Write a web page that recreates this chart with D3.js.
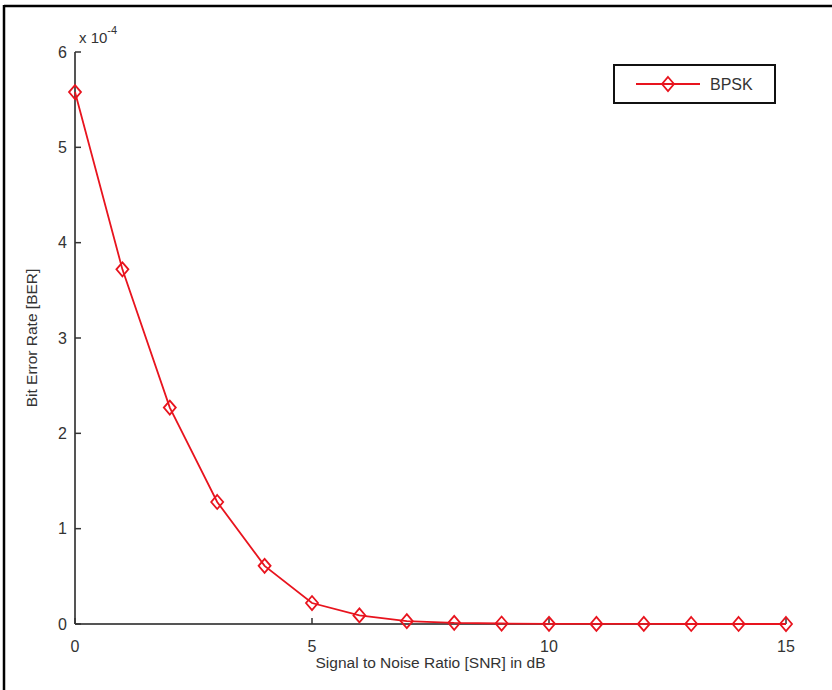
<!DOCTYPE html>
<html><head><meta charset="utf-8">
<script src="https://cdn.jsdelivr.net/npm/d3@7"></script>
<style>body{margin:0;background:#fff}svg{display:block}text{font-family:"Liberation Sans",Arial,sans-serif}</style>
</head><body>
<script>
const snr = [0,1,2,3,4,5,6,7,8,9,10,11,12,13,14,15];
const ber = [5.58,3.72,2.27,1.28,0.61,0.22,0.09,0.03,0.012,0.005,0.002,0.001,0.0005,0.0002,0.0001,0.00005];
const xTicks = [0,5,10,15];
const yTicks = [0,1,2,3,4,5,6];
const seriesName = "BPSK";

const W = 832, H = 690;
const svg = d3.select("body").append("svg").attr("width", W).attr("height", H);
svg.append("line").attr("x1",4).attr("x2",W).attr("y1",6).attr("y2",6).attr("stroke","#000").attr("stroke-width",2.5);
svg.append("line").attr("x1",4).attr("x2",4).attr("y1",5).attr("y2",H).attr("stroke","#000").attr("stroke-width",2.5);

const x = d3.scaleLinear().domain([0,15]).range([75,786]);
const y = d3.scaleLinear().domain([0,6]).range([624,52]);
const axisColor = "#555", textColor = "#333";

svg.append("line").attr("x1",x(0)).attr("x2",x(0)).attr("y1",y(6)).attr("y2",y(0)).attr("stroke",axisColor).attr("stroke-width",2);
svg.append("line").attr("x1",x(0)).attr("x2",x(15)).attr("y1",y(0)).attr("y2",y(0)).attr("stroke",axisColor).attr("stroke-width",2);

const gy = svg.append("g");
gy.selectAll("line.t").data(yTicks).join("line").attr("x1",x(0)).attr("x2",x(0)+6).attr("y1",d=>y(d)).attr("y2",d=>y(d)).attr("stroke","#333").attr("stroke-width",1.5);
gy.selectAll("text").data(yTicks).join("text").attr("x",x(0)-8).attr("y",d=>y(d)).attr("dy","0.35em").attr("text-anchor","end").attr("font-size",16).attr("fill",textColor).text(d=>d);

const gx = svg.append("g");
gx.selectAll("line.t").data(xTicks).join("line").attr("x1",d=>x(d)).attr("x2",d=>x(d)).attr("y1",y(0)).attr("y2",y(0)-6).attr("stroke","#333").attr("stroke-width",1.5);
gx.selectAll("text").data(xTicks).join("text").attr("x",d=>x(d)).attr("y",y(0)+28).attr("text-anchor","middle").attr("font-size",16).attr("fill",textColor).text(d=>d);

const ex = svg.append("text").attr("x",79).attr("y",43).attr("font-size",15).attr("fill",textColor);
ex.append("tspan").text("x 10");
ex.append("tspan").attr("dy",-9).attr("font-size",11).text("-4");

svg.append("text").attr("x",(x(0)+x(15))/2).attr("y",668).attr("text-anchor","middle").attr("font-size",15.5).attr("fill",textColor).text("Signal to Noise Ratio [SNR] in dB");
svg.append("text").attr("transform",`translate(37,${(y(0)+y(6))/2}) rotate(-90)`).attr("text-anchor","middle").attr("font-size",15.5).attr("fill",textColor).text("Bit Error Rate [BER]");

const red = "#e8141e";
const pts = snr.map((s,i)=>[s,ber[i]]);
svg.append("path").datum(pts).attr("fill","none").attr("stroke",red).attr("stroke-width",1.8)
  .attr("d", d3.line().x(d=>x(d[0])).y(d=>y(d[1])));
const diamond = "M0,-7L6,0L0,7L-6,0Z";
svg.selectAll("path.m").data(pts).join("path").attr("class","m")
  .attr("transform",d=>`translate(${x(d[0])},${y(d[1])})`).attr("d",diamond)
  .attr("fill","none").attr("stroke",red).attr("stroke-width",1.8);

const lg = svg.append("g");
lg.append("rect").attr("x",614).attr("y",65).attr("width",161).attr("height",38).attr("fill","#fff").attr("stroke","#111").attr("stroke-width",2);
lg.append("line").attr("x1",636).attr("x2",700).attr("y1",84).attr("y2",84).attr("stroke",red).attr("stroke-width",1.8);
lg.append("path").attr("transform","translate(668,84)").attr("d",diamond).attr("fill","none").attr("stroke",red).attr("stroke-width",1.8);
lg.append("text").attr("x",710).attr("y",84).attr("dy","0.35em").attr("font-size",16).attr("fill",textColor).text(seriesName);
</script>
</body></html>
